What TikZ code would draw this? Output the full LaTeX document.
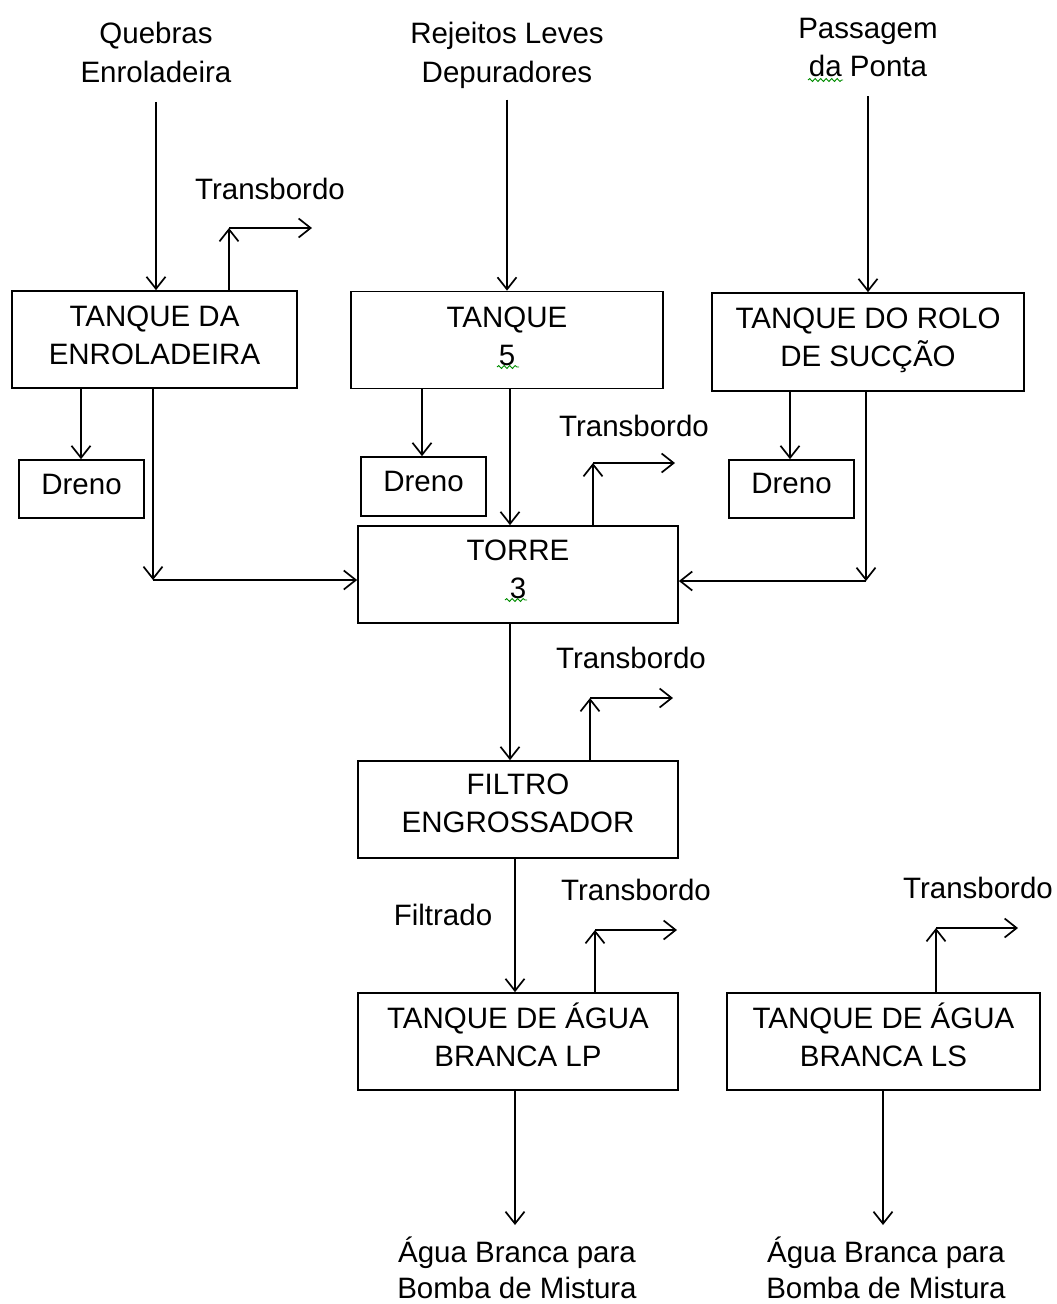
\documentclass[tikz,border=0pt]{standalone}
\usepackage{fontspec}
\setmainfont{Liberation Sans}
\usetikzlibrary{arrows.meta,decorations.pathmorphing}

\tikzset{
  unit/.style={x=1pt,y=-1pt},
  lbl/.style={inner sep=0pt,align=center,font=\fontsize{29.5pt}{38.5pt}\selectfont},
  outlbl/.style={lbl,font=\fontsize{29.5pt}{36pt}\selectfont},
  % a framed box whose text sits slightly above its middle
  box/.style n args={3}{draw,line width=1.7pt,inner sep=0pt,
    label={[lbl,yshift=#1]center:{#2}},#3},
  arr/.style={line width=1.7pt,-{Straight Barb[length=12pt,width=19pt]}},
  squiggle/.style={green!55!black,line width=0.9pt,
    decorate,decoration={snake,segment length=5.5pt,amplitude=1.4pt}}
}

\begin{document}
\begin{tikzpicture}[unit]
\useasboundingbox (0,0) rectangle (1057,1304);

% source labels
\node[lbl] (q) at (156,52.5) {Quebras\\Enroladeira};
\node[lbl] (r) at (507,55.5) {Rejeitos Leves\\Depuradores};
\node[lbl] (p) at (868,47.5) {Passagem\\da Ponta};

% tanks and equipment
\node[box={4pt}{TANQUE DA\\ENROLADEIRA}{minimum width=285pt,minimum height=97pt}] (enr) at (154.5,339.5) {};
\node[box={3.5pt}{TANQUE\\5}{minimum width=312pt,minimum height=97pt}] (tq5) at (507,340) {};
\node[box={1.5pt}{TANQUE DO ROLO\\DE SUCÇÃO}{minimum width=312pt,minimum height=98pt}] (rolo) at (868,342) {};
\node[box={5pt}{Dreno}{minimum width=125pt,minimum height=58pt}] (dr1) at (81.5,489) {};
\node[box={5.5pt}{Dreno}{minimum width=125pt,minimum height=59pt}] (dr2) at (423.5,486.5) {};
\node[box={6pt}{Dreno}{minimum width=125pt,minimum height=58pt}] (dr3) at (791.5,489) {};
\node[box={5pt}{TORRE\\3}{minimum width=320pt,minimum height=97pt}] (torre) at (518,574.5) {};
\node[box={6pt}{FILTRO\\ENGROSSADOR}{minimum width=320pt,minimum height=97pt}] (filtro) at (518,809.5) {};
\node[box={6.5pt}{TANQUE DE ÁGUA\\BRANCA LP}{minimum width=320pt,minimum height=97pt}] (lp) at (518,1041.5) {};
\node[box={6.5pt}{TANQUE DE ÁGUA\\BRANCA LS}{minimum width=313pt,minimum height=97pt}] (ls) at (883.5,1041.5) {};

% other labels
\node[lbl] (t1) at (270,189) {Transbordo};
\node[lbl] (t2) at (634,426) {Transbordo};
\node[lbl] (t3) at (631,658) {Transbordo};
\node[lbl] (t4) at (636,890) {Transbordo};
\node[lbl] (t5) at (978,888) {Transbordo};
\node[lbl] (filtrado) at (443,915) {Filtrado};
\node[outlbl] (out1) at (517,1268) {Água Branca para\\Bomba de Mistura};
\node[outlbl] (out2) at (886,1268) {Água Branca para\\Bomba de Mistura};

% feeds from the top
\draw[arr] ([yshift=-19pt]q.south) -- (q.south |- enr.north);
\draw[arr] ([yshift=-11pt]r.south) -- (r.south |- tq5.north);
\draw[arr] ([yshift=-19pt]p.south) -- (p.south |- rolo.north);

% overflow outlets
\coordinate (c1) at (229,228);  \coordinate (e1) at (312,228);
\coordinate (c2) at (593,463);  \coordinate (e2) at (675,463);
\coordinate (c3) at (590,698);  \coordinate (e3) at (673,698);
\coordinate (c4) at (595,930);  \coordinate (e4) at (677,930);
\coordinate (c5) at (936,928);  \coordinate (e5) at (1018,928);
\draw[arr] (c1 |- enr.north) -- (c1);    \draw[arr] (c1) -- (e1);
\draw[arr] (c2 |- torre.north) -- (c2);  \draw[arr] (c2) -- (e2);
\draw[arr] (c3 |- filtro.north) -- (c3); \draw[arr] (c3) -- (e3);
\draw[arr] (c4 |- lp.north) -- (c4);     \draw[arr] (c4) -- (e4);
\draw[arr] (c5 |- ls.north) -- (c5);     \draw[arr] (c5) -- (e5);

% drains
\coordinate (d1) at (81,0);
\coordinate (d2) at (422,0);
\coordinate (d3) at (790,0);
\draw[arr] (d1 |- enr.south) -- (d1 |- dr1.north);
\draw[arr] (d2 |- tq5.south) -- (d2 |- dr2.north);
\draw[arr] (d3 |- rolo.south) -- (d3 |- dr3.north);

% into the tower
\coordinate (k1) at (153,580);
\coordinate (k2) at (866,581);
\draw[arr] (k1 |- enr.south) -- (k1);
\draw[arr] (k1) -- (k1 -| torre.west);
\draw[arr] (k2 |- rolo.south) -- (k2);
\draw[arr] (k2) -- (k2 -| torre.east);
\coordinate (v1) at (510,0);
\draw[arr] (v1 |- tq5.south) -- (v1 |- torre.north);

% main line down
\draw[arr] (v1 |- torre.south) -- (v1 |- filtro.north);
\coordinate (v2) at (515,0);
\draw[arr] (v2 |- filtro.south) -- (v2 |- lp.north);
\coordinate (o1) at (515,1225);
\coordinate (o2) at (883,1225);
\draw[arr] (o1 |- lp.south) -- (o1);
\draw[arr] (o2 |- ls.south) -- (o2);

% spell-check marks under short words
\draw[squiggle] (808,80) -- (843,80);
\draw[squiggle] (497,367) -- (519,367);
\draw[squiggle] (505,600) -- (527,600);
\end{tikzpicture}
\end{document}
